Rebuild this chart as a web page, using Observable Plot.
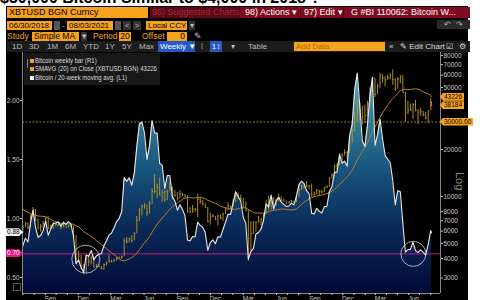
<!DOCTYPE html>
<html><head><meta charset="utf-8">
<script src="https://cdn.jsdelivr.net/npm/d3@7"></script>
<script src="https://cdn.jsdelivr.net/npm/@observablehq/plot@0.6"></script>
<style>
html,body{margin:0;padding:0;background:#fff;width:480px;height:300px;overflow:hidden;font-family:"Liberation Sans",Arial,sans-serif;}
#wrap{position:relative;width:480px;height:300px;overflow:hidden;}
#title{position:absolute;left:0;top:-10px;font:bold 16px/16px "Liberation Sans",Arial,sans-serif;color:#000;white-space:nowrap;z-index:0;}
#panel{position:absolute;left:6px;top:6px;width:462px;height:294px;background:#000;z-index:1;}
#chart{position:absolute;left:0;top:0;z-index:2;}
.a{position:absolute;white-space:nowrap;z-index:3;box-sizing:border-box;}
.ob{background:#f7a21b;color:#000;}
.r1{top:7px;height:11px;font-size:9px;line-height:11px;}
.r2{top:21px;height:9px;font-size:8px;line-height:9px;}
.r3{top:32px;height:9px;font-size:8.5px;line-height:9px;}
.r4{top:41px;height:11px;font-size:8px;line-height:11px;color:#bdbdbd;}
.ot{color:#f7a21b;}
.gb{background:#333;color:#bbb;text-align:center;}
.lg{font-size:7.5px;line-height:8px;color:#ddd;transform:scaleX(0.8);transform-origin:left center;}
.sq{position:absolute;width:4px;height:4px;z-index:4;}
.tag{position:absolute;z-index:4;height:8px;font-size:6.5px;line-height:8px;color:#000;white-space:nowrap;}
</style></head>
<body>
<div id="wrap">
  <div id="title">$30,000 Bitcoin Similar to $4,000 in 2018 ?</div>
  <div id="panel"></div>
  <div id="chart"></div>

  <!-- row 1 -->
  <div class="a ob r1" style="left:7px;width:141px;padding-left:2px;">XBTUSD BGN Curncy</div>
  <div class="a r1" style="left:150px;width:320px;background:#7e0b20;"></div>
  <div class="a r1" style="left:150px;width:90px;background:#5c0815;color:#a3283b;padding-left:2px;">96) Suggested Charts</div>
  <div class="a r1" style="left:245px;color:#fff;">98) Actions ▾</div>
  <div class="a r1" style="left:300px;width:1px;background:#4a0510;"></div>
  <div class="a r1" style="left:304px;color:#fff;">97) Edit ▾</div>
  <div class="a r1" style="left:343px;width:1px;background:#4a0510;"></div>
  <div class="a r1" style="left:351px;color:#fff;">G #BI 110062: Bitcoin W...</div>

  <!-- row 2 -->
  <div class="a ob r2" style="left:7px;width:45px;padding-left:2px;">06/30/2018</div>
  <div class="a gb r2" style="left:54px;width:6px;background:#555;"></div>
  <div class="a r2" style="left:62px;color:#ddd;">-</div>
  <div class="a ob r2" style="left:67px;width:46px;padding-left:2px;">08/03/2021</div>
  <div class="a gb r2" style="left:115px;width:6px;background:#555;"></div>
  <div class="a gb r2" style="left:123px;width:8px;">&lt;</div>
  <div class="a gb r2" style="left:133px;width:8px;">&gt;</div>
  <div class="a ob r2" style="left:146px;width:41px;padding-left:2px;">Local CCY</div>
  <div class="a gb r2" style="left:189px;width:6px;">▾</div>
  <div class="a gb r2" style="left:437px;width:33px;top:20px;background:#2a2a2a;color:#aaa;">↶ &nbsp;↷</div>

  <!-- row 3 -->
  <div class="a ot r3" style="left:7px;">Study</div>
  <div class="a ob r3" style="left:32px;width:47px;padding-left:2px;">Simple MA</div>
  <div class="a gb r3" style="left:81px;width:6px;">▾</div>
  <div class="a ot r3" style="left:93px;">Period</div>
  <div class="a ob r3" style="left:119px;width:12px;text-align:center;">20</div>
  <div class="a ot r3" style="left:142px;">Offset</div>
  <div class="a ob r3" style="left:167px;width:20px;text-align:right;padding-right:2px;">0</div>
  <div class="a r3" style="left:194px;color:#ccc;">✎</div>

  <!-- row 4 -->
  <div class="a r4" style="left:7px;width:463px;background:#1c1c1c;"></div>
  <div class="a r4" style="left:12px;">1D</div>
  <div class="a r4" style="left:29px;">3D</div>
  <div class="a r4" style="left:47px;">1M</div>
  <div class="a r4" style="left:65px;">6M</div>
  <div class="a r4" style="left:83px;">YTD</div>
  <div class="a r4" style="left:105px;">1Y</div>
  <div class="a r4" style="left:122px;">5Y</div>
  <div class="a r4" style="left:139px;">Max</div>
  <div class="a r4" style="left:158px;width:37px;background:#2458c4;color:#fff;padding-left:2px;">Weekly ▼</div>
  <div class="a r4" style="left:200px;color:#999;">⌇</div>
  <div class="a r4" style="left:210px;width:12px;background:#2458c4;color:#fff;text-align:center;">1↕</div>
  <div class="a r4" style="left:231px;">▾</div>
  <div class="a r4" style="left:248px;">Table</div>
  <div class="a ob r4" style="left:294px;width:91px;top:42px;height:9px;line-height:9px;color:#b56b00;padding-left:2px;">Add Data</div>
  <div class="a r4" style="left:389px;color:#ddd;">«</div>
  <div class="a r4" style="left:400px;color:#ddd;">✎ Edit Chart</div>
  <div class="a r4" style="left:446px;color:#ddd;">☑</div>
  <div class="a r4" style="left:459px;color:#ddd;">⚙</div>

  <!-- legend -->
  <div class="a" style="left:24px;top:53px;width:136px;height:32px;background:#181818;"></div>
  <div class="a" style="left:27px;top:59px;width:1px;height:9px;background:#888;"></div>
  <div class="sq" style="left:30px;top:59px;background:#f7a21b;"></div>
  <div class="sq" style="left:30px;top:67px;background:#f7a21b;"></div>
  <div class="sq" style="left:30px;top:76px;background:#fff;"></div>
  <div class="a lg" style="left:35px;top:57px;">Bitcoin weekly bar (R1)</div>
  <div class="a lg" style="left:35px;top:65px;">SMAVG (20) on Close (XBTUSD BGN) 43226</div>
  <div class="a lg" style="left:35px;top:74px;">Bitcoin / 20-week moving avg. (L1)</div>

  <div class="a" style="top:172px;color:#888;font-size:11px;transform:rotate(90deg);transform-origin:left top;left:466px;">Log</div>
  <div class="a" style="left:13px;top:283px;width:8px;height:8px;border:1px solid #555;"></div>
  <div id="tags"></div>
</div>
<script>
// ---- data (weekly, weeks ending Sunday, first = 2018-07-01; last point is the partial week as of 2021-08-03)
const firstWeekEnd = "2018-07-01";
const lastDataDate = "2021-08-03";

// closes of the 19 weeks before the range (Feb 18 - Jun 24, 2018), needed for the 20-week average
const closesBefore = [10400, 9600, 11500, 9500, 8200, 8450, 6850, 7000, 8050, 8900, 9400, 9650, 8700, 8500, 7350, 7700, 6800, 6500, 6150];

const closes = [
  6350, 6750, 6350, 7400, 8200, 7050, 6300, 6400, 6700, 7250, 6250, 6500, 6700, 6630, 6600, 6300, 6450, 6330, 6480, 6350, 5600, 4000, 4150, 3600, 3250, 4000, 3850,
  4050, 3500, 3550, 3530, 3450, 3660, 3750, 3850, 3820, 3900, 4010, 3990, 4100, 5200, 5150, 5350, 5200, 5800, 7000, 8200, 8700, 8700, 7900, 8950, 10800, 10800, 11450, 10200, 10600, 9500, 10800, 11300, 10200, 10150, 9700, 10400, 10300, 10000, 8050, 7950, 8300, 8250, 9550, 9300, 9050, 8500, 6900, 7400, 7500, 7100, 7500, 7300,
  7750, 8190, 8700, 8600, 9350, 10150, 9900, 9700, 8550, 8100, 5400, 5800, 5900, 6800, 6900, 7100, 7700, 8900, 8750, 9700, 8800, 9450, 9750, 9450, 9300, 9100, 9080, 9250, 9170, 9900, 11050, 11700, 11900, 11650, 11700, 10250, 10330, 10930, 10780, 10670, 11380, 11500, 13030, 13740, 15480, 15970, 18400, 18180, 19150, 19270, 23860, 26490,
  33000, 38200, 35800, 32200, 33100, 39250, 48700, 57500, 45200, 51000, 59300, 57500, 55800, 57800, 59800, 56200, 49000, 56600, 58300, 46400, 34700, 35700, 35800, 39000, 35600, 34700, 35300, 33500, 31800, 35400, 39900, 38184
];
const highs = [
  6550, 6800, 6780, 7550, 8500, 8250, 7150, 6600, 6900, 7350, 7400, 6550, 6800, 6750, 6700, 6650, 6900, 6480, 6530, 6600, 6500, 5600, 4450, 4200, 3650, 4200, 4200,
  4100, 4150, 3680, 3650, 3560, 3700, 3800, 4200, 3900, 3950, 4050, 4100, 4150, 5350, 5450, 5400, 5600, 5850, 7450, 8350, 8800, 9000, 8800, 9300, 11250, 13800, 12000, 13150, 11000, 10850, 11000, 12300, 11500, 10950, 10600, 10900, 10500, 10300, 10100, 8500, 8750, 8400, 10350, 9800, 9450, 9000, 8500, 7850, 7650, 7450, 7550, 7600,
  7800, 8450, 9150, 8700, 9550, 10200, 10500, 10200, 9700, 9200, 8150, 6900, 6900, 6900, 7450, 7250, 7750, 9450, 10000, 9950, 9850, 9600, 10400, 9950, 9600, 9350, 9250, 9450, 9300, 10000, 12000, 11800, 12000, 12450, 11750, 12000, 10650, 11100, 10950, 10950, 11450, 11700, 13200, 14000, 15950, 16200, 18800, 18800, 19900, 19400, 24250, 28400,
  34800, 41950, 40100, 37800, 38500, 40950, 49700, 58350, 57500, 52400, 61700, 60600, 58500, 60100, 61200, 64800, 57000, 57900, 59500, 59600, 46600, 40800, 39200, 39300, 41300, 36000, 36600, 35100, 34600, 35400, 42400, 40400
];
const lows = [
  5800, 6300, 6100, 6300, 7350, 6950, 6100, 5900, 6250, 6700, 6150, 6150, 6150, 6400, 6400, 6150, 6300, 6300, 6280, 6330, 5300, 3650, 3800, 3450, 3150, 3200, 3550,
  3650, 3500, 3500, 3500, 3380, 3350, 3580, 3750, 3750, 3780, 3850, 3950, 3950, 4100, 4950, 5050, 5050, 5200, 5750, 6900, 7500, 8300, 7450, 7700, 8900, 10400, 9700, 10100, 9200, 9200, 9400, 10750, 9500, 9900, 9350, 9650, 9950, 9850, 7800, 7750, 7800, 7900, 7350, 8900, 8700, 8400, 6800, 6550, 7300, 7050, 6450, 7100,
  6900, 7650, 8100, 8250, 8600, 9150, 9600, 9300, 8450, 8000, 3850, 4450, 5700, 5900, 6750, 6500, 6800, 7650, 8100, 8200, 8700, 8650, 9250, 9200, 9200, 8850, 8950, 9100, 9050, 9130, 9900, 10950, 11150, 11350, 11100, 9900, 9900, 10250, 10150, 10400, 10550, 11250, 11400, 12950, 13550, 14800, 15800, 16300, 18200, 17600, 19000, 21800,
  26000, 30000, 30400, 28800, 29300, 32300, 37400, 46200, 43000, 44900, 49300, 53300, 50400, 55500, 55800, 51600, 47100, 48800, 53000, 46100, 30000, 33400, 35000, 31100, 34800, 28800, 32700, 32300, 31100, 29300, 35300, 37700
];

// axis ticks and reference values
const ratioTicks = [0.5, 1.0, 1.5, 2.0];
const priceTicks = [3000, 4000, 5000, 6000, 7000, 8000, 10000, 20000, 50000, 60000, 70000, 80000];
const ratioLine = 0.70;
const priceLine = 30000;
const rightTags = [{value: 43226, label: "43226"}, {value: 38184, label: "38184"}, {value: 30000, label: "30000.00"}];
const leftTags = [{value: 0.88, label: "0.88", bg: "#f2f2f2", fg: "#000"}, {value: 0.70, label: "0.70", bg: "#e8198b", fg: "#fff"}];
const circles = [{date: "2018-12-22", ratio: 0.655, r: 14}, {date: "2021-06-14", ratio: 0.70, r: 12.5}];
const quarterMonths = [2, 5, 8, 11]; // Mar, Jun, Sep, Dec

// ---- build table
const all = closesBefore.concat(closes);
const data = closes.map((c, i) => {
  const sma = d3.mean(all.slice(i, i + 20));
  const date = i === closes.length - 1 ? new Date(lastDataDate) : d3.utcDay.offset(new Date(firstWeekEnd), 7 * i);
  return {date, close: c, high: highs[i], low: lows[i], sma, ratio: c / sma};
});

const ratioDomain = [0.364, 2.407];
const priceDomain = [2388, 83750];
const p2r = d3.scaleLog().domain(priceDomain).range(ratioDomain);
const xDomain = [new Date("2018-06-30"), new Date("2021-08-28")];
const monthStarts = d3.utcMonth.range(new Date("2018-07-01"), xDomain[1]);
const quarterMids = monthStarts.filter(d => quarterMonths.includes(d.getUTCMonth())).map(d => d3.utcDay.offset(d, 14));

const gold = "#c29b25";
const chart = Plot.plot({
  width: 480, height: 300,
  marginTop: 52, marginBottom: 7, marginLeft: 22, marginRight: 40,
  style: {background: "transparent", color: "#c8c8c8", fontFamily: "'Liberation Sans',Arial,sans-serif", fontSize: "6.5px", overflow: "visible"},
  x: {type: "utc", domain: xDomain},
  y: {domain: ratioDomain},
  marks: [
    Plot.areaY(data, {x: "date", y1: ratioDomain[0], y2: "ratio", fill: "url(#ratioGrad)"}),
    Plot.ruleY([p2r(priceLine)], {stroke: "#a88b2c", strokeWidth: 0.9, strokeDasharray: "2,1.5"}),
    Plot.ruleY([ratioLine], {stroke: "#c8177f", strokeWidth: 1}),
    Plot.ruleX(data, {x: "date", y1: d => p2r(d.low), y2: d => p2r(d.high), stroke: gold, strokeWidth: 0.9}),
    Plot.link(data, {x1: "date", x2: d => d3.utcDay.offset(d.date, 3), y1: d => p2r(d.close), y2: d => p2r(d.close), stroke: gold, strokeWidth: 0.9}),
    Plot.line(data, {x: "date", y: d => p2r(d.sma), stroke: "#b7802b", strokeWidth: 1}),
    Plot.line(data, {x: "date", y: "ratio", stroke: "#e8e8e8", strokeWidth: 1.1}),
    ...circles.map(c => Plot.dot([c], {x: d => new Date(d.date), y: "ratio", r: c.r, stroke: "#d0d0d0", strokeWidth: 0.8, fill: "none"})),
    Plot.ruleX([xDomain[0]], {stroke: "#8a8a8a"}),
    Plot.ruleX([xDomain[1]], {stroke: "#8a8a8a"}),
    Plot.ruleY([ratioDomain[0]], {stroke: "#8a8a8a"}),
    Plot.axisY(ratioTicks, {anchor: "left", tickFormat: d3.format(".2f"), tickSize: 2, tickPadding: 1, label: null}),
    Plot.axisY(priceTicks.map(p => p2r(p)), {anchor: "right", tickFormat: r => String(Math.round(p2r.invert(r))), tickSize: 2, tickPadding: 1, label: null}),
    Plot.axisX(monthStarts, {tickSize: 2, tickFormat: () => "", label: null}),
    Plot.axisX(quarterMids, {tickSize: 0, tickPadding: 3, tickFormat: d3.utcFormat("%b"), label: null})
  ]
});

const svg = d3.select(chart);
const grad = svg.insert("defs", ":first-child").append("linearGradient")
  .attr("id", "ratioGrad").attr("x1", 0).attr("y1", 0).attr("x2", 0).attr("y2", 1);
[["0", "#56adc2"], ["0.2", "#2f7f9c"], ["0.45", "#17527a"], ["0.7", "#0a2a58"], ["1", "#020935"]]
  .forEach(([o, c]) => grad.append("stop").attr("offset", o).attr("stop-color", c));
document.getElementById("chart").appendChild(chart);

// value tags positioned through the chart's y scale
const ys = chart.scale("y");
const tags = document.getElementById("tags");
rightTags.forEach(t => {
  const y = ys.apply(p2r(t.value));
  const el = document.createElement("div");
  el.className = "tag";
  el.textContent = t.label;
  Object.assign(el.style, {left: "440px", top: (y - 4) + "px", background: "#f7a21b", paddingLeft: "4px", paddingRight: "2px",
    clipPath: "polygon(3px 0,100% 0,100% 100%,3px 100%,0 50%)"});
  tags.appendChild(el);
});
leftTags.forEach(t => {
  const y = ys.apply(t.value);
  const el = document.createElement("div");
  el.className = "tag";
  el.textContent = t.label;
  Object.assign(el.style, {left: "6px", top: (y - 4) + "px", width: "16px", background: t.bg, color: t.fg, paddingLeft: "1px",
    clipPath: "polygon(0 0,13px 0,100% 50%,13px 100%,0 100%)"});
  tags.appendChild(el);
});
</script>
</body></html>
